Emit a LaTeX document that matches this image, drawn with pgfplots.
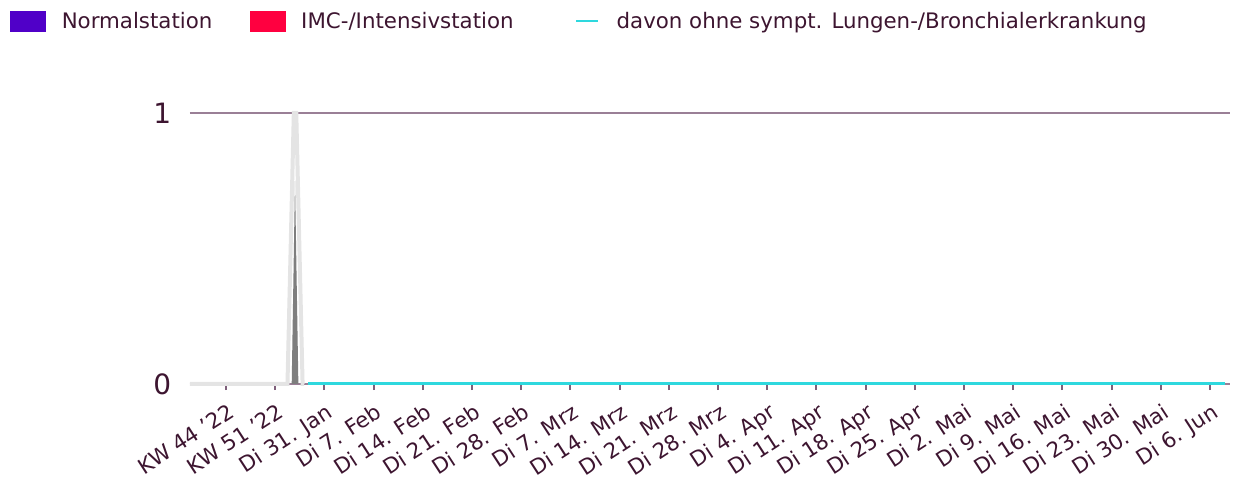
\documentclass[border=0pt]{standalone}
\usepackage{pgfplots}
\pgfplotsset{compat=1.18}
\usepackage{fontspec}
\setmainfont{DejaVu Sans}
\definecolor{txt}{HTML}{3D1530}
\definecolor{gridc}{HTML}{9A7F96}
\definecolor{tickc}{HTML}{7E5F7A}
\definecolor{normal}{HTML}{5000C8}
\definecolor{imc}{HTML}{FF0040}
\definecolor{cyanl}{HTML}{2ED8DE}
\definecolor{lgray}{HTML}{E4E4E4}
\definecolor{dgray}{HTML}{7E7E7E}
\begin{document}
\begin{tikzpicture}
\useasboundingbox (-142.5pt,-69.75pt) rectangle (785.25pt,288pt);
\begin{axis}[
  at={(0,0)}, anchor=south west,
  scale only axis, width=780pt, height=203.25pt,
  xmin=-5.12, xmax=142.85, ymin=0, ymax=1,
  clip=false,
  axis x line*=bottom, axis y line*=left,
  x axis line style={draw=gridc, line width=1.5pt, -},
  y axis line style={draw=none},
  xtick={0,7,...,140},
  xticklabels={KW 44 '22,KW 51 '22,Di 31. Jan,Di 7. Feb,Di 14. Feb,Di 21. Feb,Di 28. Feb,Di 7. Mrz,Di 14. Mrz,Di 21. Mrz,Di 28. Mrz,Di 4. Apr,Di 11. Apr,Di 18. Apr,Di 25. Apr,Di 2. Mai,Di 9. Mai,Di 16. Mai,Di 23. Mai,Di 30. Mai,Di 6. Jun},
  ytick={0,1},
  tick align=outside,
  major tick length=4.5pt,
  xtick style={draw=tickc, line width=1.5pt},
  ytick style={draw=none},
  ymajorgrids, grid style={draw=gridc, line width=1.5pt},
  xticklabel style={rotate=33, anchor=north east, font=\fontsize{16pt}{18pt}\selectfont, text=txt, inner sep=1pt, xshift=-3.4pt, yshift=-7pt},
  yticklabel style={anchor=east, font=\fontsize{21pt}{24pt}\selectfont, text=txt, xshift=-6pt},
  /pgf/number format/assume math mode=true,
  legend columns=3,
  legend style={draw=none, fill=none, at={(-0.1731,1.384)}, anchor=north west,
    font=\fontsize{16pt}{19pt}\selectfont, text=txt, inner sep=0pt,
    /tikz/every even column/.append style={column sep=26pt}},
  legend cell align=left,
]
\addlegendimage{legend image code/.code={\fill[normal] (0pt,-7.5pt) rectangle (26.25pt,7.5pt);}}
\addlegendentry{\hspace{10pt}Normalstation}
\addlegendimage{legend image code/.code={\fill[imc] (0pt,-7.5pt) rectangle (26.25pt,7.5pt);}}
\addlegendentry{\hspace{10pt}IMC-/Intensivstation}
\addlegendimage{legend image code/.code={\path[draw=none,fill=none] (-19pt,0pt) -- (0pt,0pt); \draw[cyanl, line width=1.5pt] (0pt,0pt) -- (16.5pt,0pt);}}
\addlegendentry{\hspace{11pt}davon ohne sympt. Lungen-/Bronchialerkrankung}

\addplot[lgray, line width=3pt, forget plot] coordinates {(-5.12,0) (8.75,0) (9.65,1) (10.0,1) (10.9,0) (11.1,0)};
\addplot[draw=none, fill=dgray, forget plot] coordinates {(9.35,0) (9.82,0.75) (10.3,0) (9.35,0)};
\addplot[cyanl, line width=2.25pt, forget plot] coordinates {(11.67,0) (142.1,0)};
\end{axis}
\end{tikzpicture}
\end{document}
